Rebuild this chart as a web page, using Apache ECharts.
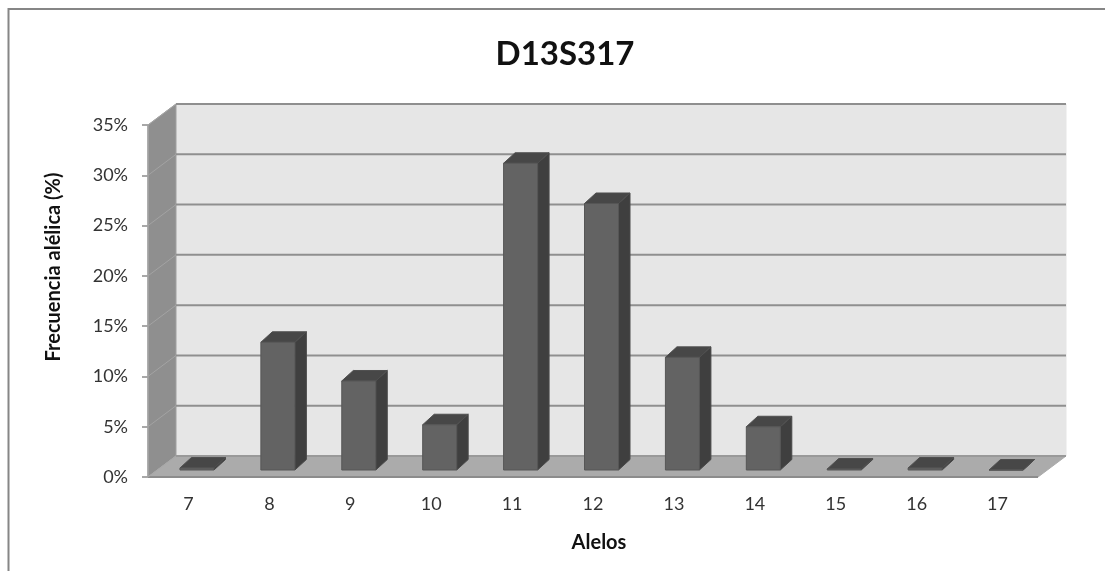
<!DOCTYPE html>
<html><head><meta charset="utf-8">
<style>html,body{margin:0;padding:0;background:#fff}#c{width:1105px;height:571px}</style>
<script src="https://cdn.jsdelivr.net/npm/echarts@6/dist/echarts.min.js"></script>
</head><body><div id="c"></div>
<script>
const titleText = 'D13S317';
const xTitle = 'Alelos';
const yTitle = 'Frecuencia alélica (%)';
const alleles = ['7','8','9','10','11','12','13','14','15','16','17'];
const frequency = [0.2,12.7,8.85,4.5,30.5,26.5,11.2,4.3,0.1,0.2,0];
const yTicks = [0,5,10,15,20,25,30,35];
const DX = 28, DY = -21;          // chart box depth
const BX = 8.5, BY = -7;          // bar inset from front plane
const DBX = 11.5, DBY = -10.5;    // bar depth

const chart = echarts.init(document.getElementById('c'), null, {renderer:'canvas'});
const poly = (points, fill, stroke, lw) => ({
  type:'polygon', shape:{points},
  style:{fill, stroke: stroke || fill, lineWidth: lw === undefined ? 1 : lw}
});
const line = (a, b, stroke, lw) => ({
  type:'line', shape:{x1:a[0],y1:a[1],x2:b[0],y2:b[1]},
  style:{stroke, lineWidth:lw}
});

function renderBox(params, api) {
  const cs = params.coordSys;
  const l = cs.x, r = cs.x + cs.width;
  const b = api.coord([0,0])[1], t = api.coord([0,35])[1];
  const kids = [
    poly([[l+DX,t+DY],[r+DX,t+DY],[r+DX,b+DY],[l+DX,b+DY]], '#e6e6e6'),
    poly([[l,t],[l+DX,t+DY],[l+DX,b+DY],[l,b]], '#8f8f8f', '#a0a0a0'),
    poly([[l,b],[l+DX,b+DY],[r+DX,b+DY],[r,b]], '#ababab'),
    line([l,t],[l,b],'#a3a3a3',1.5),
    line([l,b],[r,b],'#8c8c8c',2)
  ];
  return {type:'group', children:kids};
}
function renderGrid(params, api) {
  const cs = params.coordSys;
  const l = cs.x, r = cs.x + cs.width;
  const y = api.coord([0, api.value(0)])[1];
  const col = api.value(0) === 0 ? '#999999' : '#8f8f8f';
  return {type:'group', children:[
    line([l,y],[l+DX,y+DY], api.value(0) === 0 ? '#a8a8a8' : '#a3a3a3', 1),
    line([l+DX,y+DY],[r+DX,y+DY], col, 2)
  ]};
}
function renderBar(params, api) {
  const c = api.value(0), v = api.value(1);
  const base = api.coord([c,0]), top = api.coord([c,v]);
  const w = 34;
  const x0 = base[0] + BX - w/2, x1 = x0 + w;
  const yb = base[1] + BY, yt = top[1] + BY;
  return {type:'group', children:[
    poly([[x1,yb],[x1+DBX,yb+DBY],[x1+DBX,yt+DBY],[x1,yt]], '#3f3f3f', '#4a4a4a'),
    poly([[x0,yt],[x0+DBX,yt+DBY],[x1+DBX,yt+DBY],[x1,yt]], '#474747', '#4f4f4f'),
    poly([[x0,yb],[x1,yb],[x1,yt],[x0,yt]], '#636363', '#565656')
  ]};
}

chart.setOption({
  animation:false,
  backgroundColor:'#ffffff',
  title:{text:titleText,left:560,top:33,textAlign:'center',
    textStyle:{fontFamily:'Lato',fontWeight:'bold',fontSize:33,color:'#111'}},
  graphic:[{type:'rect',shape:{x:8.5,y:9,width:1120,height:600},
    style:{fill:'none',stroke:'#868686',lineWidth:2},z:-1}],
  grid:{left:148,top:125,width:890,height:352,containLabel:false},
  xAxis:{type:'category',data:alleles,
    name:xTitle,nameLocation:'middle',nameGap:56,
    nameTextStyle:{fontFamily:'Lato',fontWeight:'bold',fontSize:20,color:'#111',padding:[0,0,0,12]},
    axisLine:{show:false},axisTick:{show:false},
    axisLabel:{margin:18,fontFamily:'Lato',fontSize:18,color:'#333'}},
  yAxis:{type:'value',min:0,max:35,interval:5,
    name:yTitle,nameLocation:'middle',nameGap:84,nameRotate:90,
    nameTextStyle:{fontFamily:'Lato',fontWeight:'bold',fontSize:20,color:'#111',padding:[0,0,0,68]},
    axisLine:{show:false},
    axisTick:{show:true,length:6,lineStyle:{color:'#8c8c8c',width:1.5}},
    splitLine:{show:false},
    axisLabel:{margin:20,formatter:'{value}%',fontFamily:'Lato',fontSize:18,color:'#333'}},
  series:[
    {type:'custom',silent:true,renderItem:renderBox,data:[[0]],encode:{x:0},z:1},
    {type:'custom',silent:true,renderItem:renderGrid,data:yTicks.map(v=>[v]),encode:{y:0},z:2},
    {type:'custom',silent:true,renderItem:renderBar,
      data:frequency.map((v,i)=>[i,v]),encode:{x:0,y:1},z:3}
  ]
});
</script></body></html>
